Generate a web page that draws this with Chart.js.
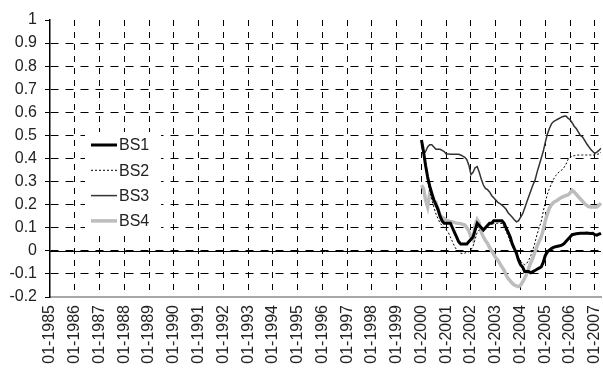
<!DOCTYPE html>
<html>
<head>
<meta charset="utf-8">
<script src="https://cdn.jsdelivr.net/npm/chart.js@4.4.1/dist/chart.umd.min.js"></script>
<style>
  html, body { margin: 0; padding: 0; background: #fff; }
  canvas { display: block; }
</style>
</head>
<body>
<canvas id="chart" width="603" height="369"></canvas>
<script>
// ── Data ──────────────────────────────────────────────────────────────────────
const firstYear = 1985;
const lastYear = 2007;
const lastMonthOfLastYear = 4;
const seriesStart = '01-2000';

const yTicks = [-0.2, -0.1, 0, 0.1, 0.2, 0.3, 0.4, 0.5, 0.6, 0.7, 0.8, 0.9, 1];

// monthly values from 01-2000 onwards
const bs1 = [0.48, 0.43, 0.37, 0.32, 0.28, 0.25, 0.22, 0.20, 0.18, 0.15,
    0.13, 0.12, 0.12, 0.12, 0.12, 0.10, 0.08, 0.06, 0.04, 0.03,
    0.03, 0.03, 0.03, 0.04, 0.05, 0.06, 0.09, 0.12, 0.11, 0.10,
    0.09, 0.10, 0.11, 0.12, 0.12, 0.13, 0.13, 0.13, 0.13, 0.13,
    0.12, 0.10, 0.08, 0.06, 0.03, 0.01, -0.01, -0.04, -0.06, -0.07,
    -0.09, -0.09, -0.09, -0.095, -0.09, -0.085, -0.08, -0.075, -0.07, -0.05,
    -0.02, -0.005, 0.003, 0.01, 0.015, 0.018, 0.02, 0.022, 0.025, 0.03,
    0.04, 0.05, 0.06, 0.07, 0.072, 0.074, 0.075, 0.076, 0.076, 0.076,
    0.077, 0.076, 0.075, 0.076, 0.07, 0.068, 0.072, 0.076];

const bs2 = [0.47, 0.42, 0.36, 0.30, 0.26, 0.22, 0.19, 0.16, 0.14, 0.12,
    0.11, 0.10, 0.09, 0.08, 0.06, 0.04, 0.02, 0.005, -0.005, -0.01,
    -0.012, -0.01, -0.005, -0.004, 0.005, 0.02, 0.05, 0.08, 0.09, 0.095,
    0.10, 0.105, 0.11, 0.115, 0.117, 0.118, 0.119, 0.12, 0.12, 0.118,
    0.105, 0.085, 0.065, 0.04, 0.02, 0.005, -0.01, -0.03, -0.045, -0.055,
    -0.06, -0.055, -0.04, -0.02, 0.005, 0.035, 0.07, 0.10, 0.125, 0.17,
    0.21, 0.245, 0.27, 0.29, 0.31, 0.325, 0.335, 0.345, 0.35, 0.36,
    0.375, 0.395, 0.405, 0.41, 0.412, 0.414, 0.415, 0.415, 0.415, 0.415,
    0.415, 0.416, 0.415, 0.415, 0.415, 0.418, 0.42, 0.428];

const bs3 = [0.46, 0.42, 0.43, 0.45, 0.46, 0.46, 0.45, 0.44, 0.44, 0.44,
    0.435, 0.43, 0.42, 0.42, 0.418, 0.418, 0.418, 0.418, 0.418, 0.415,
    0.41, 0.405, 0.395, 0.37, 0.33, 0.34, 0.36, 0.365, 0.34, 0.31,
    0.285, 0.27, 0.265, 0.255, 0.24, 0.23, 0.22, 0.21, 0.205, 0.198,
    0.19, 0.18, 0.165, 0.155, 0.145, 0.135, 0.126, 0.13, 0.145, 0.16,
    0.185, 0.21, 0.235, 0.26, 0.285, 0.305, 0.34, 0.37, 0.40, 0.43,
    0.47, 0.505, 0.53, 0.55, 0.56, 0.565, 0.57, 0.575, 0.58, 0.583,
    0.584, 0.575, 0.568, 0.555, 0.54, 0.53, 0.515, 0.50, 0.494, 0.48,
    0.465, 0.452, 0.44, 0.43, 0.422, 0.428, 0.435, 0.444];

const bs4 = [0.285, 0.27, 0.22, 0.19, 0.25, 0.24, 0.22, 0.21, 0.18, 0.155,
    0.145, 0.14, 0.133, 0.13, 0.127, 0.125, 0.122, 0.12, 0.119, 0.118,
    0.115, 0.112, 0.10, 0.085, 0.06, 0.047, 0.11, 0.135, 0.12, 0.08,
    0.06, 0.045, 0.032, 0.015, 0.0, -0.015, -0.03, -0.04, -0.055, -0.07,
    -0.083, -0.105, -0.12, -0.13, -0.14, -0.148, -0.152, -0.155, -0.15, -0.135,
    -0.119, -0.10, -0.075, -0.05, -0.03, -0.005, 0.02, 0.04, 0.06, 0.09,
    0.13, 0.16, 0.185, 0.20, 0.21, 0.215, 0.22, 0.227, 0.232, 0.236,
    0.24, 0.242, 0.25, 0.262, 0.255, 0.245, 0.235, 0.225, 0.215, 0.205,
    0.198, 0.192, 0.19, 0.19, 0.191, 0.19, 0.198, 0.206];

// month labels "MM-YYYY"
const monthLabels = [];
for (let y = firstYear; y <= lastYear; y++) {
    const last = y === lastYear ? lastMonthOfLastYear : 12;
    for (let m = 1; m <= last; m++) {
        monthLabels.push(`${String(m).padStart(2, '0')}-${y}`);
    }
}

const lead = monthLabels.indexOf(seriesStart);
const pad = values => Array(lead).fill(null).concat(values);

const FONT = "'Liberation Sans', Arial, sans-serif";

// ── Plugins ───────────────────────────────────────────────────────────────────

// solid zero line + boxed legend inside the plot
const overlayPlugin = {
    id: 'overlay',
    beforeDatasetsDraw(chart) {
        const { ctx, chartArea, scales } = chart;
        const y0 = Math.round(scales.y.getPixelForValue(0)) + 0.5;
        ctx.save();
        ctx.strokeStyle = '#000';
        ctx.lineWidth = 1;
        ctx.beginPath();
        ctx.moveTo(chartArea.left, y0);
        ctx.lineTo(chartArea.right, y0);
        ctx.stroke();

        // legend
        const bx = chartArea.left + 35, by = chartArea.top + 112;
        ctx.fillStyle = '#fff';
        ctx.fillRect(bx, by, 76, 101);
        ctx.font = `16px ${FONT}`;
        ctx.textBaseline = 'middle';
        chart.data.datasets.forEach((ds, i) => {
            const ly = by + 13 + i * 25.3;
            ctx.strokeStyle = ds.borderColor;
            ctx.lineWidth = ds.borderWidth;
            ctx.setLineDash(ds.borderDash || []);
            ctx.beginPath();
            ctx.moveTo(bx + 6, ly);
            ctx.lineTo(bx + 32, ly);
            ctx.stroke();
            ctx.setLineDash([]);
            ctx.fillStyle = '#222';
            ctx.fillText(ds.label, bx + 34, ly + 1);
        });
        ctx.restore();
    }
};

// ── Chart ─────────────────────────────────────────────────────────────────────
new Chart(document.getElementById('chart'), {
    type: 'line',
    data: {
        labels: monthLabels,
        datasets: [
            { label: 'BS1', data: pad(bs1), borderColor: '#000', borderWidth: 3 },
            { label: 'BS2', data: pad(bs2), borderColor: '#000', borderWidth: 1, borderDash: [2, 2] },
            { label: 'BS3', data: pad(bs3), borderColor: '#333', borderWidth: 1.5 },
            { label: 'BS4', data: pad(bs4), borderColor: '#bdbdbd', borderWidth: 3.5 }
        ]
    },
    options: {
        responsive: false,
        animation: false,
        layout: { padding: { top: 20, right: 2, left: 0, bottom: 0 } },
        elements: { point: { radius: 0 }, line: { tension: 0 } },
        plugins: { legend: { display: false }, tooltip: { enabled: false } },
        scales: {
            x: {
                type: 'category',
                offset: false,
                afterFit: s => { s.height = 72; s.paddingLeft = 0; s.paddingRight = 0; },
                grid: {
                    color: c => (c.index > 0) ? '#000' : 'rgba(0,0,0,0)',
                    lineWidth: 1,
                    drawTicks: false
                },
                border: { display: true, color: '#a8a8a8', width: 2, dash: [6, 6] },
                ticks: {
                    autoSkip: false,
                    minRotation: 90,
                    maxRotation: 90,
                    padding: 8,
                    color: '#222',
                    font: { family: FONT, size: 16 },
                    // only January is labelled; null hides the other ticks and their grid lines
                    callback: function (v, i) { return i % 12 === 0 ? this.getLabelForValue(v) : null; }
                }
            },
            y: {
                min: yTicks[0],
                max: yTicks[yTicks.length - 1],
                afterFit: s => { s.width = 50; },
                afterBuildTicks: s => { s.ticks = yTicks.map(v => ({ value: v })); },
                grid: {
                    color: c => (c.tick && (c.tick.value === 1 || c.tick.value === -0.2)) ? 'rgba(0,0,0,0)' : '#000',
                    tickColor: '#000',
                    tickLength: 5,
                    lineWidth: 1
                },
                border: { display: true, color: '#000', width: 1.5, dash: [8, 7] },
                ticks: {
                    padding: 8,
                    color: '#222',
                    font: { family: FONT, size: 16 },
                    callback: v => String(Math.round(v * 10) / 10)
                }
            }
        }
    },
    plugins: [overlayPlugin]
});
</script>
</body>
</html>
